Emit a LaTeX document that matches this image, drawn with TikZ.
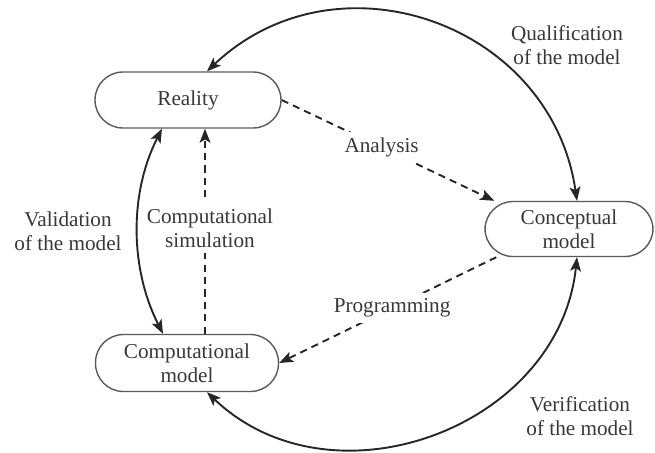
\documentclass[tikz,border=0pt]{standalone}
\usepackage{fontspec}
\setmainfont{Liberation Serif}
\usetikzlibrary{arrows.meta,calc}
\begin{document}
\begin{tikzpicture}[x=0.5pt,y=-0.5pt,
  txt/.style={align=center,text=black!78,font=\fontsize{10.6}{12}\selectfont},
  box/.style={txt,draw=black!65,line width=0.7pt,rounded corners=14pt,inner sep=0pt},
  lab/.style={txt,inner xsep=1.5pt,inner ysep=3pt},
  link/.style={line width=0.95pt,draw=black!85},
  tip/.style={-{Stealth[length=7pt,width=5.4pt,inset=1.6pt]}},
  both/.style={{Stealth[length=7pt,width=5.4pt,inset=1.6pt]}-{Stealth[length=7pt,width=5.4pt,inset=1.6pt]}},
  dsh/.style={dash pattern=on 3.6pt off 2.6pt}]
\useasboundingbox (0,0) rectangle (655,452);
% nodes
\node[box,minimum width=93pt,minimum height=28pt] (R) at (188,100) {Reality};
\node[box,minimum width=84pt,minimum height=27.5pt] (C) at (569,229) {Conceptual\\model};
\node[box,minimum width=91.5pt,minimum height=28.5pt] (M) at (187,363) {Computational\\model};
% big circle arcs
\draw[link,both] ($(C.north)+(8,0)$) .. controls +(-26,-178) and +(130,-123) .. ($(R.north)+(19,0)$);
\draw[link,both] ($(C.south)+(8,0)$) .. controls +(-18,171) and +(125,119) .. ($(M.south)+(20,0)$);
% validation arc
\draw[link,both] ($(R.south)+(-26,0)$) .. controls +(-33,65) and +(-33,-65) .. ($(M.north)+(-24,0)$);
% computational simulation
\draw[link,dsh,tip] ($(M.north)+(18,0)$) -- ($(R.south)+(17,0)$);
\node[lab,fill=white] (cs) at (210,228) {Computational\\simulation};
% analysis and programming
\draw[link,dsh,tip] (R.east) -- node[lab,fill=white,pos=0.47] (an) {Analysis} ($(C.north west)+(10,0)$);
\draw[link,dsh,tip] ($(C.south west)+(12,0)$) -- node[lab,fill=white,pos=0.48] (pr) {Programming} (M.east);
% labels
\node[lab] (q) at (567,45) {Qualification\\of the model};
\node[lab] (v) at (580,416) {Verification\\of the model};
\node[lab] (val) at (68,231) {Validation\\of the model};
\end{tikzpicture}
\end{document}
